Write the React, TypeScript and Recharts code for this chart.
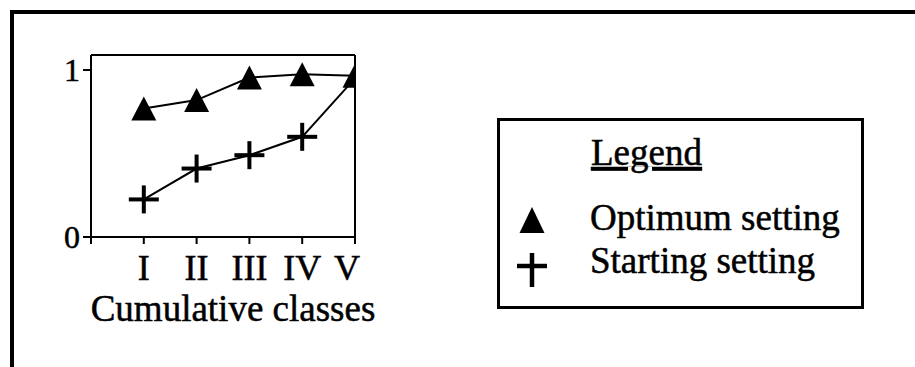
import React from "react";
import { LineChart, Line, XAxis, YAxis, ReferenceLine, Legend, Label } from "recharts";

// values
const classes = ["I", "II", "III", "IV", "V"];
const classPositions = [1, 2, 3, 4, 5];
const optimumSetting = [0.77, 0.82, 0.955, 0.975, 0.965];
const startingSetting = [0.225, 0.41, 0.49, 0.6, 0.95];
const xTicks = [0, 1, 2, 3, 4, 5];
const yTicks = [0, 1];
const seriesNames: Record<string, string> = {
    optimum: "Optimum setting",
    starting: "Starting setting",
};
const legendOrder = ["optimum", "starting"];
const legendTitle = "Legend";
const xAxisTitle = "Cumulative classes";

const data = classes.map((c, i) => ({
    cls: c,
    pos: classPositions[i],
    optimum: optimumSetting[i],
    starting: startingSetting[i],
}));

const Y_MAX = 1.09;
const FONT = '"Liberation Serif", "Times New Roman", serif';
// scanned print looks a bit heavier than the regular face
const INK = { fill: "#000", stroke: "#000", strokeWidth: 0.5 };

const TriangleDot = (props: any) => {
    const { cx, cy, index } = props;
    if (cx == null || cy == null) return <g key={`tri-${index}`} />;
    return (
        <path
            key={`tri-${index}`}
            d={`M${cx},${cy - 12}L${cx + 12.5},${cy + 12}L${cx - 12.5},${cy + 12}Z`}
            fill="#000"
        />
    );
};

const CrossDot = (props: any) => {
    const { cx, cy, index, payload } = props;
    // where the cross sits on top of a triangle the scan only shows the triangle
    if (cx == null || cy == null || Math.abs(payload.starting - payload.optimum) < 0.05) {
        return <g key={`cross-${index}`} />;
    }
    return (
        <g key={`cross-${index}`} stroke="#000" strokeWidth={4}>
            <line x1={cx - 15} x2={cx + 15} y1={cy} y2={cy} />
            <line x1={cx} x2={cx} y1={cy - 14} y2={cy + 14} />
        </g>
    );
};

const XTick = (props: any) => {
    const { x, y, payload } = props;
    const label = classes[payload.value - 1] ?? "";
    const nudge = payload.value === classes.length ? -8 : 0;
    return (
        <text x={x + nudge} y={y} dy="0.7em" textAnchor="middle" fontSize={36} fontFamily={FONT} {...INK}>
            {label}
        </text>
    );
};

const YTick = (props: any) => {
    const { x, y, payload } = props;
    return (
        <text x={x} y={y} dy="0.35em" textAnchor="end" fontSize={32} fontFamily={FONT} {...INK}>
            {payload.value}
        </text>
    );
};

const XTitle = (props: any) => {
    const vb = props.viewBox || {};
    return (
        <text x={vb.x + vb.width / 2 + 10} y={vb.y + vb.height - 6} textAnchor="middle" fontSize={37} fontFamily={FONT} {...INK}>
            {xAxisTitle}
        </text>
    );
};

const LegendMarker = ({ type, row }: { type: string; row: number }) => {
    if (type === "optimum") {
        return <path d={`M35,${89 + row * 44}L47.5,${115 + row * 44}L22.5,${115 + row * 44}Z`} fill="#000" />;
    }
    const top = 91 + row * 44;
    return (
        <g stroke="#000" strokeWidth={4.5}>
            <line x1={35} x2={35} y1={top} y2={top + 34} />
            <line x1={20} x2={50} y1={top + 13} y2={top + 13} />
        </g>
    );
};

const renderLegend = (props: any) => {
    const payload: any[] = props.payload && props.payload.length
        ? props.payload
        : legendOrder.map((k) => ({ dataKey: k, value: seriesNames[k] }));
    const rows = [...payload].sort(
        (a, b) => legendOrder.indexOf(String(a.dataKey)) - legendOrder.indexOf(String(b.dataKey))
    );
    return (
        <svg width={367} height={191} style={{ display: "block" }}>
            <rect x={1.5} y={1.5} width={364} height={188} fill="#fff" stroke="#000" strokeWidth={3} />
            <text x={94} y={47} fontSize={37} fontFamily={FONT} {...INK} style={{ textDecoration: "underline" }}>
                {legendTitle}
            </text>
            {rows.map((entry, i) => (
                <g key={String(entry.dataKey)}>
                    <LegendMarker type={String(entry.dataKey)} row={i} />
                    <text x={93} y={112 + i * 43} fontSize={37} fontFamily={FONT} {...INK}>
                        {entry.value}
                    </text>
                </g>
            ))}
        </svg>
    );
};

export default function App() {
    return (
        <div style={{ position: "absolute", left: 0, top: 0, width: 915, height: 367, overflow: "hidden", background: "#fff" }}>
            <div
                style={{
                    position: "absolute",
                    left: 10,
                    top: 10,
                    width: 1000,
                    height: 500,
                    borderTop: "4px solid #000",
                    borderLeft: "4px solid #000",
                }}
            />
            <LineChart
                width={915}
                height={367}
                data={data}
                margin={{ top: 55, right: 560, left: 31, bottom: 40 }}
                style={{ fontFamily: FONT }}
            >
                <XAxis
                    dataKey="pos"
                    type="number"
                    domain={[0, 5]}
                    ticks={xTicks}
                    allowDataOverflow
                    height={90}
                    tickSize={7}
                    tickMargin={11}
                    tick={<XTick />}
                    axisLine={{ stroke: "#000", strokeWidth: 2 }}
                    tickLine={{ stroke: "#000", strokeWidth: 2 }}
                    interval={0}
                >
                    <Label content={<XTitle />} />
                </XAxis>
                <YAxis
                    type="number"
                    domain={[0, Y_MAX]}
                    ticks={yTicks}
                    width={60}
                    tickSize={8}
                    tickMargin={3}
                    tick={<YTick />}
                    axisLine={{ stroke: "#000", strokeWidth: 2 }}
                    tickLine={{ stroke: "#000", strokeWidth: 2 }}
                />
                <ReferenceLine y={Y_MAX} stroke="#000" strokeWidth={2} />
                <ReferenceLine x={5} stroke="#000" strokeWidth={2} />
                <Line
                    dataKey="starting"
                    name={seriesNames.starting}
                    type="linear"
                    stroke="#000"
                    strokeWidth={2}
                    dot={CrossDot}
                    activeDot={false}
                    isAnimationActive={false}
                />
                <Line
                    dataKey="optimum"
                    name={seriesNames.optimum}
                    type="linear"
                    stroke="#000"
                    strokeWidth={2}
                    dot={TriangleDot}
                    activeDot={false}
                    isAnimationActive={false}
                />
                <Legend
                    layout="vertical"
                    align="center"
                    verticalAlign="middle"
                    content={renderLegend}
                    wrapperStyle={{ left: 497, top: 118, width: 367, height: 191 }}
                />
            </LineChart>
        </div>
    );
}
